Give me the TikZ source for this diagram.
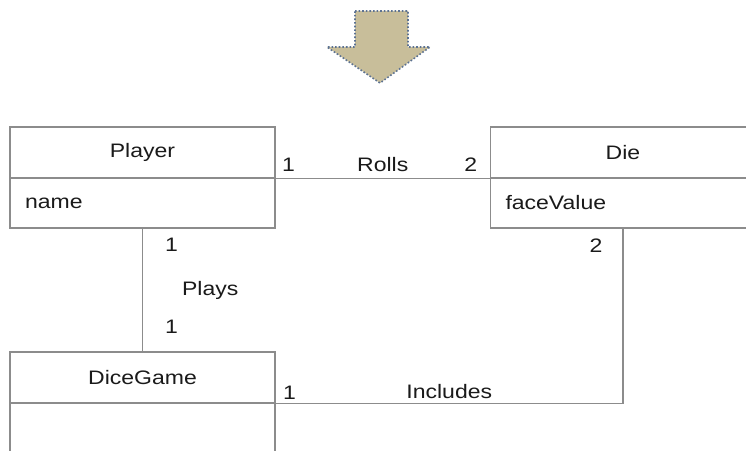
\documentclass[tikz,border=0pt]{standalone}
\usepackage{fontspec}
\setmainfont[FakeStretch=1.18]{Liberation Sans}
\usetikzlibrary{arrows, positioning}

\definecolor{boxline}{HTML}{8C8C8C}
\definecolor{arrowfill}{HTML}{C8BE9A}
\definecolor{arrowedge}{HTML}{5C7293}
\definecolor{inktext}{HTML}{1A1A1A}

\begin{document}
\begin{tikzpicture}[x=1pt, y=1pt, semithick, node distance=50.5pt, font=\fontsize{19.5}{22}\selectfont]
        \tikzstyle{classname}=[draw=boxline, line width=1.1pt, text=inktext, minimum width=265pt, minimum height=51pt, inner sep=0pt]
        \tikzstyle{classattr}=[draw=boxline, line width=1.1pt, text=inktext, text width=235pt, inner xsep=15pt, inner ysep=0pt, minimum height=50pt, align=left]
        \tikzstyle{mult}=[text=inktext, inner sep=2pt]
        \tikzstyle{assoc}=[draw=boxline, line width=1.1pt]

        \useasboundingbox (0,0) rectangle (746,450);
        \clip (0,0) rectangle (746,450);

        % block arrow on top
        \draw[fill=arrowfill, draw=arrowedge, line width=1.6pt, dotted]
            (355,439) -- (408,439) -- (408,403) -- (430,403) -- (380,367)
            -- (327,403) -- (355,403) -- cycle;

        \node[classname]    (playerhead)    at (142.5,297.5)         {Player};
        \node[classattr]    (playerattr)    [below of=playerhead]    {name};
        \node[classname]    (diehead)       at (623,297.5)           {Die};
        \node[classattr]    (dieattr)       [below of=diehead]       {faceValue};
        \node[classname]    (gamehead)      at (142.5,72.5)          {DiceGame};
        \node[classattr]    (gameattr)      [below of=gamehead]      {};

        \draw[assoc] (playerhead.south east) -- (diehead.south west)
            node[mult, pos=0.06, above=4pt] {1}
            node[mult, pos=0.5, above=4pt] {Rolls}
            node[mult, pos=0.91, above=4pt] {2};
        \draw[assoc] (playerattr.south) -- (gamehead.north)
            node[mult, pos=0.13, right=20pt] {1}
            node[mult, pos=0.5, right=37pt] {Plays}
            node[mult, pos=0.8, right=20pt] {1};
        \draw[assoc] (gamehead.south east) -| (dieattr.south)
            node[mult, pos=0.02, above=2pt] {1}
            node[mult, pos=0.25, above=2pt] {Includes}
            node[mult, pos=0.95, left=18pt] {2};
    \end{tikzpicture}
\end{document}
